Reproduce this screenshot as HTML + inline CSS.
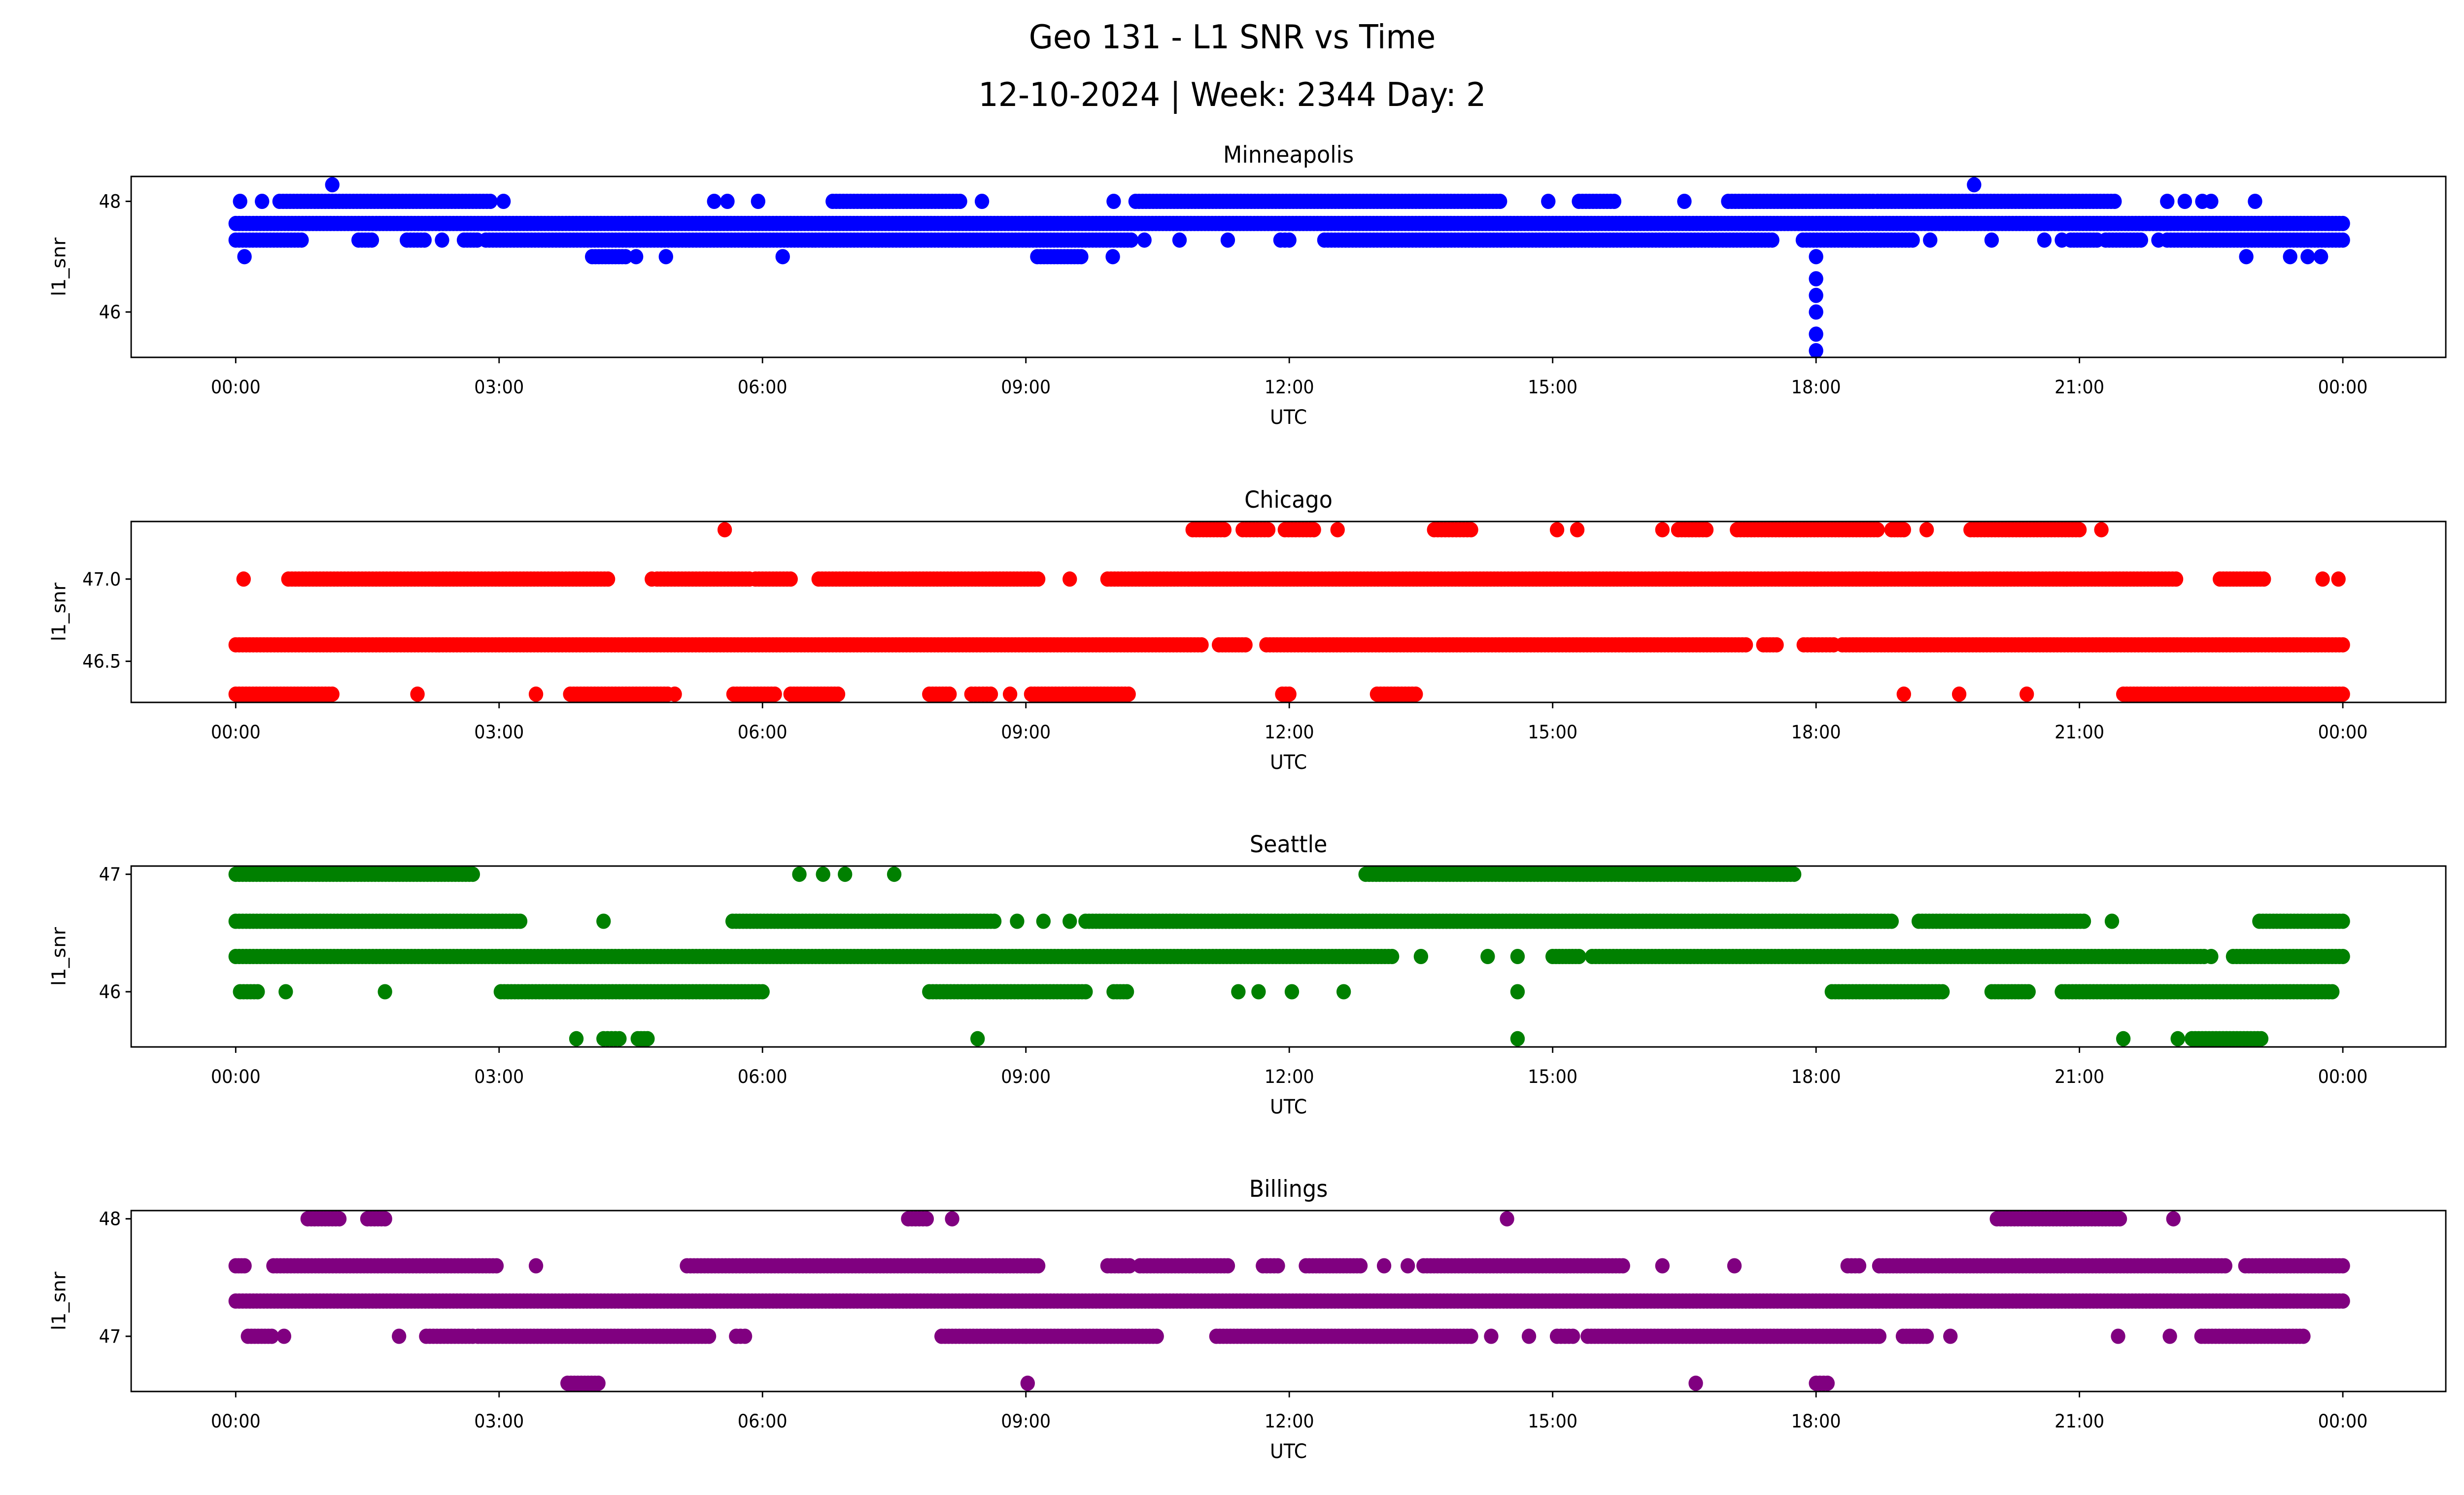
<!DOCTYPE html>
<html><head><meta charset="utf-8">
<style>
html,body{margin:0;padding:0;background:#fff;width:100%;height:100%;overflow:hidden;}
svg{display:block;width:100vw;height:100vh;font-family:"DejaVu Sans","Liberation Sans",sans-serif;}
</style></head>
<body>
<svg id="fig" viewBox="0 0 5279 3033" preserveAspectRatio="none" xmlns="http://www.w3.org/2000/svg">
<rect width="5279" height="3033" fill="#fff"/>
<text x="2640" y="98" font-size="67" text-anchor="middle">Geo 131 - L1 SNR vs Time</text>
<text x="2640" y="215" font-size="67" text-anchor="middle">12-10-2024 | Week: 2344 Day: 2</text>
</svg>
<script>
// Panel titles, colors, y ranges
const panelTitles = ["Minneapolis","Chicago","Seattle","Billings"];
const panelColors = ["#0000ff","#ff0000","#008000","#800080"];
const yMin = [45.18,46.25,45.53,46.53];
const yMax = [48.45,47.35,47.07,48.07];
const yTicks = [[46,48],[46.5,47.0],[46,47],[47,48]];
const yTickLabels = [["46","48"],["46.5","47.0"],["46","47"],["47","48"]];
const xTickHours = [0,3,6,9,12,15,18,21,24];
const xTickLabels = ["00:00","03:00","06:00","09:00","12:00","15:00","18:00","21:00","00:00"];

// Observation runs: level (dB-Hz), start hour, end hour (start==end => single point)
const minLevel = [47.6,47.3,47.3,47.3,47.3,47.3,47.3,47.3,47.3,47.3,47.3,47.3,47.3,47.3,47.3,47.3,47.3,47.3,47.3,47.3,47.3,
  48,48,48,48,48,48,48,48,48,48,48,48,48,48,48,48,48,48,48,48,48,48.3,48.3,
  47,47,47,47,47,47,47,47,47,47,47,47,47,46.6,46.3,46.0,45.6,45.3];
const minStart = [0,0,1.4,1.95,2.35,2.6,2.85,10.75,11.9,12.4,17.85,19.3,20.0,20.6,20.8,20.9,21.3,21.9,22.0,10.35,11.3,
  0.05,0.3,0.5,3.05,5.45,5.6,5.95,6.8,8.5,10.0,10.25,14.95,15.3,16.5,17.0,18.7,22.2,22.4,22.5,23.0,22.0,1.1,19.8,
  0.1,4.06,4.56,4.9,6.23,9.13,9.99,18.0,22.9,23.4,23.6,23.75,23.75,18.0,18.0,18.0,18.0,18.0];
const minEnd = [24,0.75,1.55,2.15,2.35,2.75,10.2,10.75,12.0,17.5,19.1,19.3,20.0,20.6,20.8,21.2,21.7,21.9,24,10.35,11.3,
  0.05,0.3,2.9,3.05,5.45,5.6,5.95,8.25,8.5,10.0,14.4,14.95,15.7,16.5,18.65,21.4,22.2,22.4,22.5,23.0,22.0,1.1,19.8,
  0.1,4.44,4.56,4.9,6.23,9.63,9.99,18.0,22.9,23.4,23.6,23.75,23.75,18.0,18.0,18.0,18.0,18.0];

const chiLevel = [47.3,47.3,47.3,47.3,47.3,47.3,47.3,47.3,47.3,47.3,47.3,47.3,47.3,47.3,47.3,
  47,47,47,47,47,47,47,47,47,47,47,
  46.6,46.6,46.6,46.6,46.6,46.6,
  46.3,46.3,46.3,46.3,46.3,46.3,46.3,46.3,46.3,46.3,46.3,46.3,46.3,46.3,46.3,46.3,46.3];
const chiStart = [5.57,10.9,11.47,11.95,12.55,13.65,15.05,15.28,16.25,16.43,17.1,18.86,19.26,19.76,21.25,
  0.09,0.6,4.74,4.8,5.92,6.64,9.5,9.93,22.6,23.77,23.95,
  0,11.2,11.74,17.4,17.86,18.3,
  0,2.07,3.42,3.81,5.0,5.67,6.32,7.9,8.38,8.82,9.06,11.92,13.0,19.0,19.63,20.4,21.5];
const chiEnd = [5.57,11.26,11.76,12.28,12.55,14.07,15.05,15.28,16.25,16.75,18.7,19.0,19.26,21.0,21.25,
  0.09,4.24,4.74,5.85,6.32,9.14,9.5,22.1,23.1,23.77,23.95,
  11.0,11.5,17.2,17.55,18.2,24,
  1.1,2.07,3.42,4.92,5.0,6.14,6.86,8.13,8.6,8.82,10.17,12.0,13.44,19.0,19.63,20.4,24];

const seaLevel = [47,47,47,47,47,47,
  46.6,46.6,46.6,46.6,46.6,46.6,46.6,46.6,46.6,46.6,
  46.3,46.3,46.3,46.3,46.3,46.3,46.3,46.3,
  46,46,46,46,46,46,46,46,46,46,46,46,46,
  45.6,45.6,45.6,45.6,45.6,45.6,45.6];
const seaStart = [0,6.42,6.69,6.94,7.5,12.87,
  0,4.19,5.66,8.9,9.2,9.5,9.68,19.17,21.37,23.05,
  0,13.5,14.26,14.6,15.0,15.45,22.5,22.75,
  0.05,0.57,1.7,3.02,7.9,10.0,11.42,11.65,12.03,12.62,14.6,18.18,20.0,
  3.88,4.19,4.58,8.45,14.6,22.12,22.28];
const seaEnd = [2.7,6.42,6.69,6.94,7.5,17.75,
  3.24,4.19,8.64,8.9,9.2,9.5,18.86,21.05,21.37,24,
  13.17,13.5,14.26,14.6,15.3,22.42,22.5,24,
  0.25,0.57,1.7,6.0,9.68,10.15,11.42,11.65,12.03,12.62,14.6,19.44,20.42,
  3.88,4.37,4.69,8.45,14.6,22.12,23.07];
const seaLevel2 = [46,45.6];
const seaStart2 = [20.8,21.5];
const seaEnd2 = [23.88,21.5];

const bilLevel = [48,48,48,48,48,48,48,
  47.6,47.6,47.6,47.6,47.6,47.6,47.6,47.6,47.6,47.6,47.6,47.6,47.6,47.6,47.6,47.6,
  47.3,
  47,47,47,47,47,47,47,47,47,47,47,47,47,47,47,47,47,47,
  46.6,46.6,46.6,46.6];
const bilStart = [0.82,1.5,7.66,8.16,14.48,20.06,22.07,
  0,0.43,3.42,5.14,9.93,10.3,11.7,12.19,13.08,13.35,13.53,16.25,17.07,18.36,18.72,22.89,
  0,
  0.14,0.55,1.86,2.17,2.76,5.7,8.04,11.17,14.3,14.73,15.05,15.4,18.99,19.53,21.44,22.03,22.39,9.0,
  3.78,9.02,16.63,18.0];
const bilEnd = [1.18,1.7,7.87,8.16,14.48,21.46,22.07,
  0.1,2.97,3.42,9.14,10.18,11.3,11.87,12.81,13.08,13.35,15.8,16.25,17.07,18.49,22.66,24,
  24,
  0.41,0.55,1.86,2.7,5.39,5.8,10.49,14.07,14.3,14.73,15.23,18.72,19.26,19.53,21.44,22.03,23.55,9.0,
  4.13,9.02,16.63,18.13];

const NS = "http://www.w3.org/2000/svg";
const svg = document.getElementById('fig');
const axLeft = 281, axRight = 5240, axH = 367;
const axTops = [358, 1058, 1757, 2456];
const x0 = 505, pxPerHour = 188.1;
function xScale(h){ return x0 + h*pxPerHour; }
function yScale(p, v){ return axTops[p] + axH*(yMax[p]-v)/(yMax[p]-yMin[p]); }
function mk(tag, attrs){ const e=document.createElementNS(NS,tag); for(const k in attrs) e.setAttribute(k,attrs[k]); return e; }

const seriesSets = [
  [[minLevel,minStart,minEnd]],
  [[chiLevel,chiStart,chiEnd]],
  [[seaLevel,seaStart,seaEnd],[seaLevel2,seaStart2,seaEnd2]],
  [[bilLevel,bilStart,bilEnd]]
];
const step = 0.04;

for(let p=0;p<4;p++){
  const top = axTops[p];
  const g = mk('g',{});
  
  
  svg.appendChild(g);
  const title = mk('text',{x:(axLeft+axRight)/2, y:top-28, 'font-size':47, 'text-anchor':'middle'});
  
  
  title.textContent = panelTitles[p];
  g.appendChild(title);
  const pts = mk('g',{fill:panelColors[p]});
  
  
  g.appendChild(pts);
  for(const [lv,st,en] of seriesSets[p]){
    for(let i=0;i<lv.length;i++){
      const y = yScale(p, lv[i]);
      const n = Math.max(0, Math.round((en[i]-st[i])/step));
      for(let k=0;k<=n;k++){
        const h = n===0 ? st[i] : st[i] + (en[i]-st[i])*k/n;
        const c = mk('ellipse',{cx:xScale(h).toFixed(1), cy:y.toFixed(1), rx:15.5, ry:15.5});
        
        
        pts.appendChild(c);
      }
    }
  }
  const frame = mk('rect',{x:axLeft, y:top, width:axRight-axLeft, height:axH, fill:'none', stroke:'#000', 'stroke-width':3});
  
  
  g.appendChild(frame);
  for(let t=0;t<yTicks[p].length;t++){
    const y = yScale(p, yTicks[p][t]);
    const tk = mk('line',{x1:axLeft-12, x2:axLeft, y1:y, y2:y, stroke:'#000', 'stroke-width':3});
    
    
    g.appendChild(tk);
    const lb = mk('text',{x:axLeft-22, y:y+13, 'font-size':37, 'text-anchor':'end'});
    
    
    lb.textContent = yTickLabels[p][t];
    g.appendChild(lb);
  }
  for(let t=0;t<xTickHours.length;t++){
    const x = xScale(xTickHours[t]);
    const tk = mk('line',{x1:x, x2:x, y1:top+axH, y2:top+axH+12, stroke:'#000', 'stroke-width':3});
    
    
    g.appendChild(tk);
    const lb = mk('text',{x:x, y:top+axH+73, 'font-size':37, 'text-anchor':'middle'});
    
    
    lb.textContent = xTickLabels[t];
    g.appendChild(lb);
  }
  const xl = mk('text',{x:(axLeft+axRight)/2, y:top+axH+135, 'font-size':40, 'text-anchor':'middle'});
  
  
  xl.textContent = 'UTC';
  g.appendChild(xl);
  const cy = top+axH/2;
  const yl = mk('text',{x:0, y:0, 'font-size':40, 'text-anchor':'middle', transform:'translate(140,'+cy+') rotate(-90)'});
  
  
  yl.textContent = 'l1_snr';
  g.appendChild(yl);
}
</script>
</body></html>
